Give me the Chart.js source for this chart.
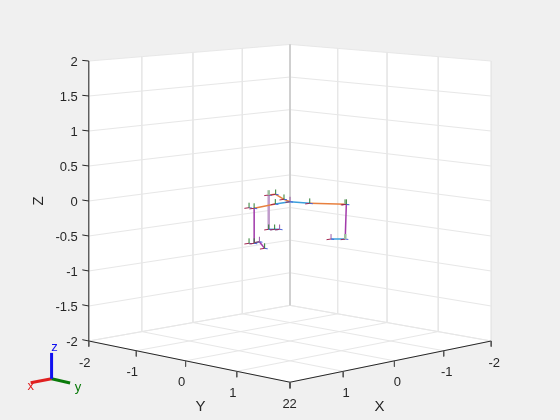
<!DOCTYPE html>
<html>
<head>
<meta charset="utf-8">
<script src="https://cdn.jsdelivr.net/npm/chart.js@4"></script>
<style>
  html, body { margin: 0; padding: 0; background: #f0f0f0; }
  canvas { display: block; }
</style>
</head>
<body>
<canvas id="chart" width="560" height="420"></canvas>
<script>
// axis ticks, in data units
const xTicks = [-2, -1, 0, 1, 2];
const yTicks = [-2, -1, 0, 1, 2];
const zTicks = [-2, -1.5, -1, -0.5, 0, 0.5, 1, 1.5, 2];
const xTickLabels = ['-2', '-1', '0', '1', '2'];
const yTickLabels = ['-2', '-1', '0', '1', '2'];
const zTickLabels = ['-2', '-1.5', '-1', '-0.5', '0', '0.5', '1', '1.5', '2'];

// body frames
const frameX = [0.87, 0.86, -0.22, -0.34, -0.06, 0.05, 0.36, -0.03, -0.31, -0.32, -0.35, -0.21, -0.23, -0.29, -0.34, 0.87, 0.82, 0.67, 1.03];
const frameY = [0.07, 0.16, -0.65, -0.63, -0.18, 0.05, 0.07, 0.36, 0.78, 0.79, 0.74, 0.60, -0.66, -0.60, -0.55, 0.07, 0.12, 0.07, 0.54];
const frameZ = [0, 0, 0, 0, 0, 0, 0, 0, 0, 0, -0.5, -0.5, -0.5, -0.5, -0.5, -0.5, -0.5, -0.5, -0.5];

// links between frames
const orangeFrom = [1, 7, 5, 4, 3];
const orangeTo = [6, 9, 4, 3, 2];
const blueFrom = [6, 5, 10, 12, 16];
const blueTo = [5, 7, 11, 14, 17];
const purpleFrom = [1, 9, 17];
const purpleTo = [16, 10, 18];
const palePurpleFrom = [2];
const palePurpleTo = [12];

// frames whose upward stub is not plain green
const purpleStubs = [5, 11, 14, 17];
const paleStubs = [2, 8, 10];

// small triad at the bottom left
const triadOrigin = [2.37, -2.37, -2.54];
const triadLength = [0.38, 0.4, 0.37];

const GRID = '#e7e7e7';
const CORNER = '#cccccc';
const AXIS = '#262626';
const TICK = '#555555';

// perspective view, azimuth close to 45 degrees
function project(x, y, z) {
  const s = y - x;
  const d = x + y;
  const w = 1 / (1 - 0.01825 * d);
  return { x: 290 + 50.3 * w * s, y: 201 + w * (7 * d - 70 * z) };
}

const datasets = [];
function addLine(points, color, width, extra) {
  datasets.push(Object.assign({
    data: points.map(p => project(p[0], p[1], p[2])),
    showLine: true,
    borderColor: color,
    borderWidth: width,
    pointRadius: 0,
    fill: false,
    tension: 0,
    clip: false,
    order: -datasets.length
  }, extra || {}));
}

const xMin = xTicks[0], xMax = xTicks[xTicks.length - 1];
const yMin = yTicks[0], yMax = yTicks[yTicks.length - 1];
const zMin = zTicks[0], zMax = zTicks[zTicks.length - 1];

// white walls and floor
addLine([[xMax, yMin, zMax], [xMin, yMin, zMax], [xMin, yMax, zMax], [xMin, yMax, zMin], [xMax, yMax, zMin], [xMax, yMin, zMin]],
  'rgba(0,0,0,0)', 0, { fill: 'shape', backgroundColor: '#ffffff' });

// grid on the three faces
xTicks.forEach(v => {
  addLine([[v, yMin, zMax], [v, yMin, zMin], [v, yMax, zMin]], GRID, 1);
});
yTicks.forEach(v => {
  addLine([[xMin, v, zMax], [xMin, v, zMin], [xMax, v, zMin]], GRID, 1);
});
zTicks.forEach(v => {
  addLine([[xMax, yMin, v], [xMin, yMin, v], [xMin, yMax, v]], GRID, 1);
});
addLine([[xMin, yMin, zMax], [xMin, yMin, zMin]], CORNER, 1);

// axis rulers
addLine([[xMax, yMin, zMin], [xMax, yMin, zMax]], AXIS, 1);
addLine([[xMax, yMin, zMin], [xMax, yMax, zMin], [xMin, yMax, zMin]], AXIS, 1);
zTicks.forEach(v => addLine([[xMax, yMin, v], [xMax, yMin - 0.14, v]], AXIS, 1));
yTicks.forEach(v => addLine([[xMax, v, zMin], [xMax, v, zMin - 0.08]], TICK, 1));
xTicks.forEach(v => addLine([[v, yMax, zMin], [v, yMax, zMin - 0.08]], TICK, 1));

// links of the robot
function addLinks(from, to, color, width) {
  from.forEach((a, i) => {
    const b = to[i];
    addLine([[frameX[a], frameY[a], frameZ[a]], [frameX[b], frameY[b], frameZ[b]]], color, width);
  });
}
addLinks(palePurpleFrom, palePurpleTo, '#c09ccb', 2.5);
addLinks(orangeFrom, orangeTo, '#e8803f', 1.5);
addLinks(blueFrom, blueTo, '#3a9fdc', 1.5);
addLinks(purpleFrom, purpleTo, '#a23bab', 1.5);

// frame triads
frameX.forEach((x, i) => {
  const y = frameY[i], z = frameZ[i];
  let stub = '#2e7d32', stubWidth = 1;
  if (purpleStubs.includes(i)) stub = '#9a5aa8';
  if (paleStubs.includes(i)) { stub = '#9dbf9f'; stubWidth = 2.5; }
  addLine([[x, y, z], [x + 0.09, y, z]], '#a4264f', 1);
  addLine([[x, y, z], [x, y + 0.06, z]], '#4a62d8', 1);
  addLine([[x, y, z], [x, y, z + 0.07]], stub, stubWidth);
});

// orientation triad
const [ox, oy, oz] = triadOrigin;
addLine([[ox, oy, oz], [ox + triadLength[0], oy, oz]], '#e02020', 3);
addLine([[ox, oy, oz], [ox, oy + triadLength[1], oz]], '#0a7a0a', 3);
addLine([[ox, oy, oz], [ox, oy, oz + triadLength[2]]], '#1010f0', 3);

// canvas text for the tick and axis labels
const axisText = {
  id: 'axisText',
  afterDraw(chart) {
    const c = chart.ctx;
    const sx = chart.scales.x, sy = chart.scales.y;
    function put(p, dx, dy, text, font, color) {
      c.font = font;
      c.fillStyle = color;
      c.textBaseline = 'middle';
      c.fillText(text, sx.getPixelForValue(p.x) + dx, sy.getPixelForValue(p.y) + dy);
    }
    const tickFont = '13px "Liberation Sans"';
    const titleFont = '15px "Liberation Sans"';
    c.save();
    c.textAlign = 'right';
    zTicks.forEach((v, i) => put(project(xMax, yMin, v), -11, 1, zTickLabels[i], tickFont, AXIS));
    c.textAlign = 'center';
    yTicks.forEach((v, i) => put(project(xMax, v, zMin), -4, 22, yTickLabels[i], tickFont, AXIS));
    xTicks.forEach((v, i) => put(project(v, yMax, zMin), 3, 22, xTickLabels[i], tickFont, AXIS));
    put(project(xMax, 0, zMin), 15, 46, 'Y', titleFont, AXIS);
    put(project(0, yMax, zMin), -15, 46, 'X', titleFont, AXIS);
    put(project(ox + triadLength[0], oy, oz), 0, 4, 'x', tickFont, '#e02020');
    put(project(ox, oy + triadLength[1], oz), 8, 4, 'y', tickFont, '#0a7a0a');
    put(project(ox, oy, oz + triadLength[2]), 3, -5, 'z', tickFont, '#1010f0');
    c.translate(39, 201);
    c.rotate(-Math.PI / 2);
    c.font = titleFont;
    c.fillStyle = AXIS;
    c.fillText('Z', 0, 0);
    c.restore();
  }
};

new Chart(document.getElementById('chart').getContext('2d'), {
  type: 'scatter',
  data: { datasets: datasets },
  plugins: [axisText],
  options: {
    responsive: false,
    animation: false,
    layout: { padding: 0 },
    plugins: { legend: { display: false }, tooltip: { enabled: false } },
    scales: {
      x: { type: 'linear', display: false, min: 0, max: 560 },
      y: { type: 'linear', display: false, min: 0, max: 420, reverse: true }
    }
  }
});
</script>
</body>
</html>
